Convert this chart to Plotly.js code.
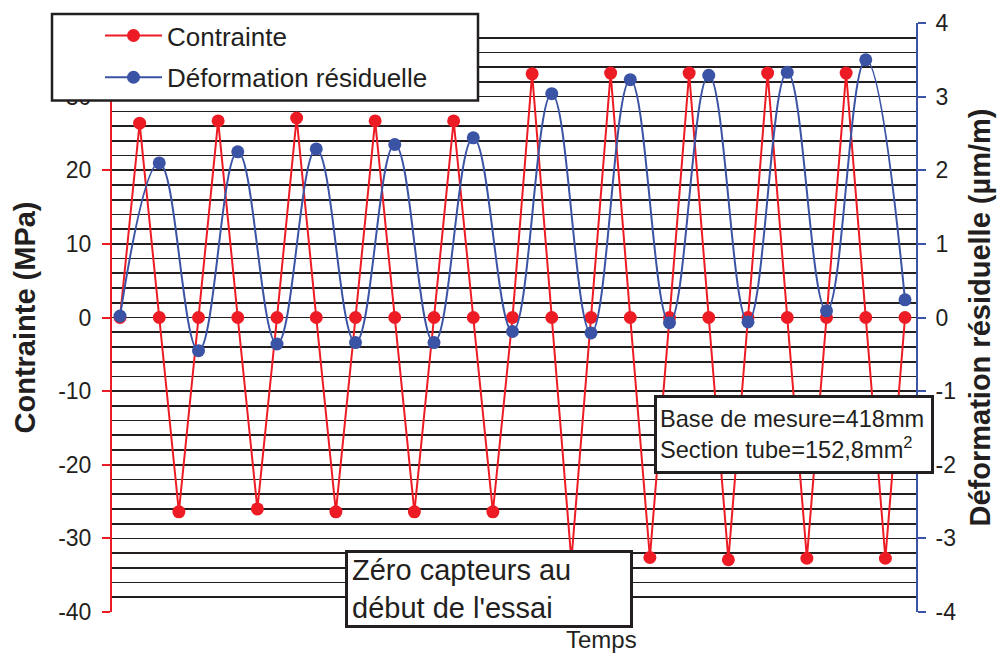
<!DOCTYPE html>
<html>
<head>
<meta charset="utf-8">
<script src="https://cdn.plot.ly/plotly-3.0.1.min.js"></script>
<style>html,body{margin:0;padding:0;background:#fff;}#chart{width:1002px;height:656px;}</style>
</head>
<body>
<div id="chart"></div>
<script>
// ---- data ----
const temps = [0,1,2,3,4,5,6,7,8,9,10,11,12,13,14,15,16,17,18,19,20,21,22,23,24,25,26,27,28,29,30,31,32,33,34,35,36,37,38,39,40];
const contrainte = [0, 26.4, 0, -26.4, 0, 26.7, 0, -26.0, 0, 27.1, 0, -26.4, 0, 26.7, 0, -26.4, 0, 26.7, 0, -26.4,
                    0, 33.1, 0, -33.0, 0, 33.2, 0, -32.6, 0, 33.2, 0, -32.9, 0, 33.2, 0, -32.7, 0, 33.2, 0, -32.7, 0];
const tempsDeformation = [0,2,4,6,8,10,12,14,16,18,20,22,24,26,28,30,32,34,36,38,40];
const deformation = [0.02, 2.1, -0.45, 2.25, -0.36, 2.29, -0.34, 2.35, -0.34, 2.44, -0.19,
                     3.04, -0.21, 3.23, -0.07, 3.29, -0.06, 3.33, 0.09, 3.5, 0.24];
const leftTicks = [-40,-30,-20,-10,0,10,20,30,40];
const rightTicks = [-4,-3,-2,-1,0,1,2,3,4];
const seriesNames = ['Contrainte', 'Déformation résiduelle'];

const RED = '#ED1C24', BLUE = '#3A53A4', INK = '#231F20';
const FONT = 'Liberation Sans, Arial, sans-serif';

const traces = [
  {x: temps, y: contrainte, name: seriesNames[0], legendgroup: 'g1', type: 'scatter', mode: 'lines+markers',
   line: {color: RED, width: 2}, marker: {color: RED, size: 13}, yaxis: 'y'},
  {x: tempsDeformation, y: deformation, name: seriesNames[1], legendgroup: 'g2', type: 'scatter', mode: 'lines+markers',
   line: {color: BLUE, width: 2, shape: 'spline', smoothing: 1.2}, marker: {color: BLUE, size: 13}, yaxis: 'y2'}
];

const layout = {
  width: 1002, height: 656,
  margin: {l: 112, r: 86, t: 19, b: 44},
  paper_bgcolor: '#fff', plot_bgcolor: '#fff',
  font: {family: FONT, color: INK},
  showlegend: true,
  xaxis: {range: [-0.408, 40.56], showticklabels: false, showgrid: false, zeroline: false, showline: false, ticks: ''},
  yaxis: {
    range: [-40, 40], tickvals: leftTicks, ticktext: leftTicks.map(String),
    showline: true, linecolor: RED, linewidth: 2,
    ticks: 'outside', tickcolor: RED, ticklen: 8, tickwidth: 2, ticklabelstandoff: 6,
    tickfont: {size: 23, color: INK, family: FONT},
    showgrid: true, gridcolor: INK, gridwidth: 1.7, zeroline: false,
    minor: {dtick: 2, showgrid: true, gridcolor: INK, gridwidth: 1.7, ticks: ''},
    title: {text: 'Contrainte (MPa)', font: {size: 29, weight: 'bold', color: INK, family: FONT}, standoff: 14}
  },
  yaxis2: {
    range: [-4, 4], overlaying: 'y', side: 'right', tickvals: rightTicks, ticktext: rightTicks.map(String),
    showline: true, linecolor: BLUE, linewidth: 2,
    ticks: 'outside', tickcolor: BLUE, ticklen: 8, tickwidth: 2, ticklabelstandoff: 5,
    tickfont: {size: 23, color: INK, family: FONT},
    showgrid: false, zeroline: false,
    title: {text: 'Déformation résiduelle (µm/m)', font: {size: 29, weight: 'bold', color: INK, family: FONT}, standoff: 14}
  },
  legend: {x: (100 - 112) / 804, y: (612 - 8) / 593, xanchor: 'left', yanchor: 'top', tracegroupgap: 5,
           bgcolor: 'rgba(0,0,0,0)', borderwidth: 0, font: {size: 26, color: INK, family: FONT}, itemwidth: 57},
  shapes: [
    {type: 'rect', xref: 'paper', yref: 'paper', layer: 'above',
     x0: (52 - 112) / 804, x1: (478 - 112) / 804, y0: (612 - 97) / 593, y1: (612 - 10) / 593,
     line: {color: INK, width: 2.5}, fillcolor: '#fff'}
  ],
  annotations: [
    {xref: 'paper', yref: 'paper', x: (489 - 112) / 804, y: (612 - 589) / 593, xanchor: 'center', yanchor: 'middle',
     text: "Zéro capteurs au<br>début de l'essai", showarrow: false, align: 'left', width: 274, height: 64,
     bgcolor: '#fff', bordercolor: INK, borderwidth: 3, borderpad: 4, font: {size: 29, color: INK, family: FONT}},
    {xref: 'paper', yref: 'paper', x: (794 - 112) / 804, y: (612 - 433.5) / 593, xanchor: 'center', yanchor: 'middle',
     text: 'Base de mesure=418mm<br>Section tube=152,8mm<sup>2</sup>', showarrow: false, align: 'left', width: 268, height: 67,
     bgcolor: '#fff', bordercolor: INK, borderwidth: 3, borderpad: 3, font: {size: 23.6, color: INK, family: FONT}},
    {xref: 'paper', yref: 'paper', x: (601 - 112) / 804, y: (612 - 640) / 593, xanchor: 'center', yanchor: 'middle',
     text: 'Temps', showarrow: false, font: {size: 24, color: INK, family: FONT}}
  ]
};

Plotly.newPlot('chart', traces, layout, {displayModeBar: false, staticPlot: true});
</script>
</body>
</html>
